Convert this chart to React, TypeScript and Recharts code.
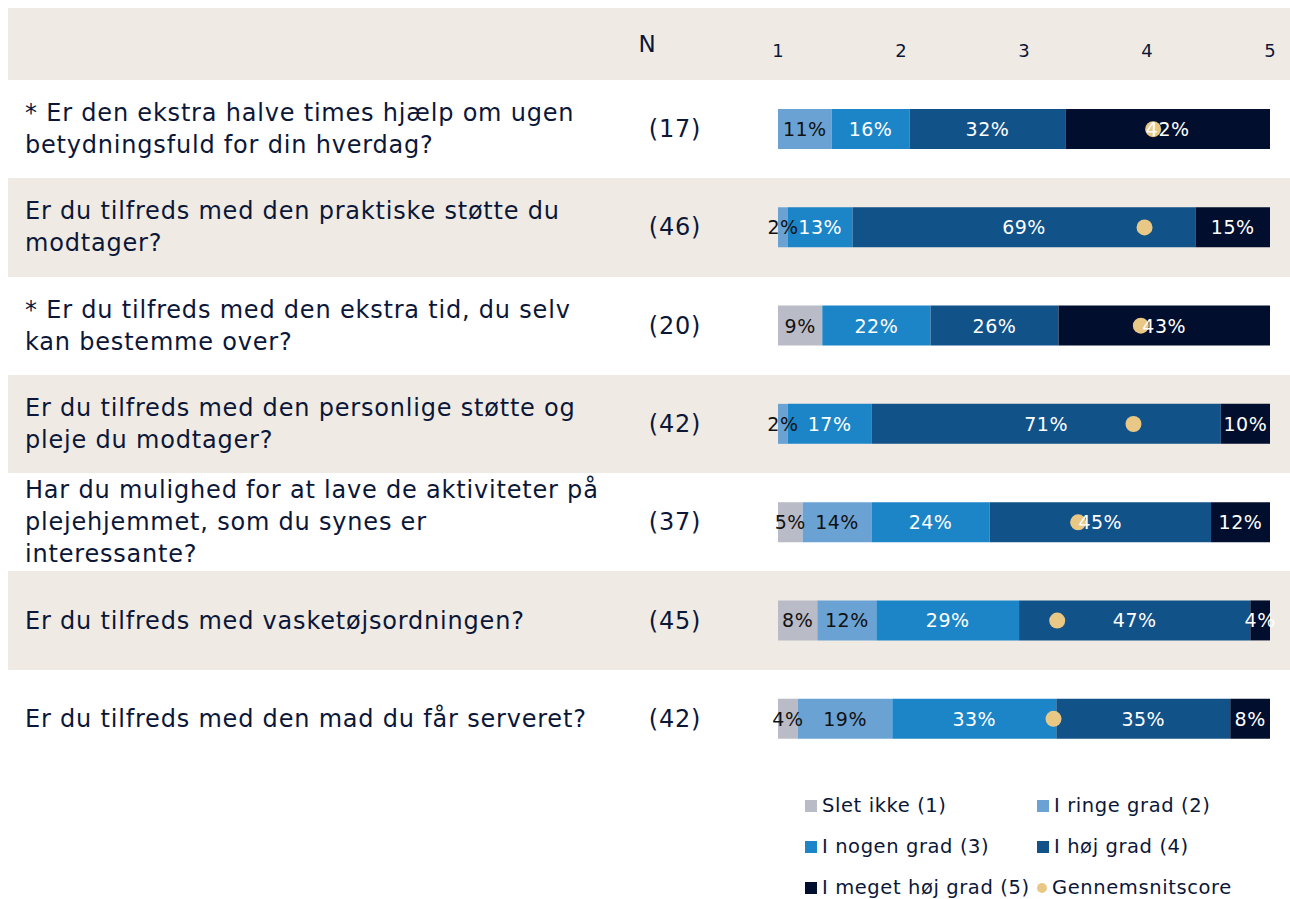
import { Bar, ComposedChart, LabelList, Legend, Line, XAxis, YAxis } from "recharts";

const questions = [
  ["* Er den ekstra halve times hjælp om ugen", "betydningsfuld for din hverdag?"],
  ["Er du tilfreds med den praktiske støtte du", "modtager?"],
  ["* Er du tilfreds med den ekstra tid, du selv", "kan bestemme over?"],
  ["Er du tilfreds med den personlige støtte og", "pleje du modtager?"],
  ["Har du mulighed for at lave de aktiviteter på", "plejehjemmet, som du synes er", "interessante?"],
  ["Er du tilfreds med vasketøjsordningen?"],
  ["Er du tilfreds med den mad du får serveret?"],
];
const nValues = [17, 46, 20, 42, 37, 45, 42];

// percentages as printed (rows may sum to 99-101 because of rounding)
const sletIkke = [0, 0, 9, 0, 5, 8, 4];
const ringeGrad = [11, 2, 0, 2, 14, 12, 19];
const nogenGrad = [16, 13, 22, 17, 24, 29, 33];
const hoejGrad = [32, 69, 26, 71, 45, 47, 35];
const megetHoejGrad = [42, 15, 43, 10, 12, 4, 8];
const avgScore = [4.05, 3.98, 3.95, 3.89, 3.44, 3.27, 3.24];

const scoreTicks = [1, 2, 3, 4, 5];

const FONT = "'DejaVu Sans', sans-serif";
const INK = "#0c1738";
const BEIGE = "#efebe4";
const DOT = "#e9c885";

const series = [
  { key: "s1", name: "Slet ikke (1)", color: "#b9bbc6", label: "#111", values: sletIkke },
  { key: "s2", name: "I ringe grad (2)", color: "#6aa2d4", label: "#111", values: ringeGrad },
  { key: "s3", name: "I nogen grad (3)", color: "#1c85c7", label: "#fff", values: nogenGrad },
  { key: "s4", name: "I høj grad (4)", color: "#115289", label: "#fff", values: hoejGrad },
  { key: "s5", name: "I meget høj grad (5)", color: "#020e2e", label: "#fff", values: megetHoejGrad },
];

// bars fill the full width, so each row is scaled to 100
const data = questions.map((lines, i) => {
  const total = series.reduce((sum, s) => sum + s.values[i], 0);
  const row: any = { q: lines.join(" "), lines, n: nValues[i], avg: avgScore[i] };
  series.forEach((s) => {
    row[s.key] = (s.values[i] / total) * 100;
    row[s.key + "_pct"] = s.values[i];
  });
  return row;
});

const W = 1282;
const H = 891;
const HEADER = 72;
const PLOT_BOTTOM = 131;
const ROW = (H - HEADER - PLOT_BOTTOM) / data.length;

function QuestionTick({ y, index }: any) {
  const row = data[index];
  if (!row) return null;
  const top = y - ((row.lines.length - 1) * 32) / 2;
  return (
    <g>
      <text x={17} y={top} fill={INK} fontSize={24} letterSpacing={0.8} fontFamily={FONT} dominantBaseline="central">
        {row.lines.map((l: string, j: number) => (
          <tspan key={j} x={17} dy={j ? 32 : 0}>
            {l}
          </tspan>
        ))}
      </text>
      <text
        x={667}
        y={y}
        fill={INK}
        fontSize={24}
        letterSpacing={0.75}
        fontFamily={FONT}
        textAnchor="middle"
        dominantBaseline="central"
      >
        ({row.n})
      </text>
    </g>
  );
}

function ScoreTick({ x, payload }: any) {
  return (
    <text x={x} y={42} fill={INK} fontSize={18} fontFamily={FONT} textAnchor="middle" dominantBaseline="central">
      {payload.value}
    </text>
  );
}

const pctLabel = (textColor: string) => (props: any) => {
  const { x, y, width, height, value } = props;
  if (!value) return null;
  return (
    <text
      x={Number(x) + Number(width) / 2}
      y={Number(y) + Number(height) / 2}
      fill={textColor}
      fontSize={19}
      letterSpacing={0.5}
      fontFamily={FONT}
      textAnchor="middle"
      dominantBaseline="central"
    >
      {value}%
    </text>
  );
};

function LegendBox() {
  const items = [
    ...series.map((s) => ({ name: s.name, color: s.color, circle: false })),
    { name: "Gennemsnitscore", color: DOT, circle: true },
  ];
  return (
    <div
      style={{
        display: "flex",
        flexWrap: "wrap",
        width: 480,
        fontFamily: FONT,
        fontSize: 19.5,
        letterSpacing: 0.6,
        color: INK,
      }}
    >
      {items.map((it) => (
        <div key={it.name} style={{ width: 232, height: 41, display: "flex", alignItems: "center" }}>
          <span
            style={{
              display: "inline-block",
              width: it.circle ? 10 : 12,
              height: it.circle ? 10 : 12,
              borderRadius: it.circle ? "50%" : 0,
              background: it.color,
              marginRight: 5,
            }}
          />
          {it.name}
        </div>
      ))}
    </div>
  );
}

export default function App() {
  return (
    <div style={{ position: "absolute", left: 8, top: 8, width: W, height: H }}>
      <div style={{ position: "absolute", left: 0, top: 0, width: W, height: HEADER, background: BEIGE }} />
      {data.map((_, i) => (
        <div
          key={i}
          style={{
            position: "absolute",
            left: 0,
            top: HEADER + i * ROW,
            width: W,
            height: ROW,
            background: i % 2 === 1 ? BEIGE : "transparent",
          }}
        />
      ))}
      <div
        style={{
          position: "absolute",
          left: 639,
          top: 23,
          width: 0,
          fontFamily: FONT,
          fontSize: 23,
          color: INK,
          display: "flex",
          justifyContent: "center",
        }}
      >
        N
      </div>
      <div style={{ position: "absolute", left: 0, top: 0 }}>
        <ComposedChart
          width={W}
          height={H}
          data={data}
          layout="vertical"
          margin={{ top: HEADER - 40, right: 20, bottom: PLOT_BOTTOM, left: 0 }}
        >
          <XAxis xAxisId="pct" type="number" domain={[0, 100]} hide />
          <XAxis
            xAxisId="score"
            type="number"
            orientation="top"
            domain={[1, 5]}
            ticks={scoreTicks}
            height={40}
            axisLine={false}
            tickLine={false}
            tick={<ScoreTick />}
          />
          <YAxis type="category" dataKey="q" width={770} axisLine={false} tickLine={false} tick={<QuestionTick />} />
          {series.map((s) => (
            <Bar
              key={s.key}
              xAxisId="pct"
              dataKey={s.key}
              name={s.name}
              stackId="a"
              fill={s.color}
              barSize={40}
              isAnimationActive={false}
            >
              <LabelList dataKey={s.key + "_pct"} content={pctLabel(s.label)} />
            </Bar>
          ))}
          <Line
            xAxisId="score"
            dataKey="avg"
            name="Gennemsnitscore"
            stroke="none"
            dot={{ r: 8, fill: DOT, stroke: "none" }}
            activeDot={false}
            isAnimationActive={false}
          />
          <Legend
            verticalAlign="middle"
            align="center"
            wrapperStyle={{ left: 797, top: 777, width: 480 }}
            content={<LegendBox />}
          />
        </ComposedChart>
      </div>
    </div>
  );
}
